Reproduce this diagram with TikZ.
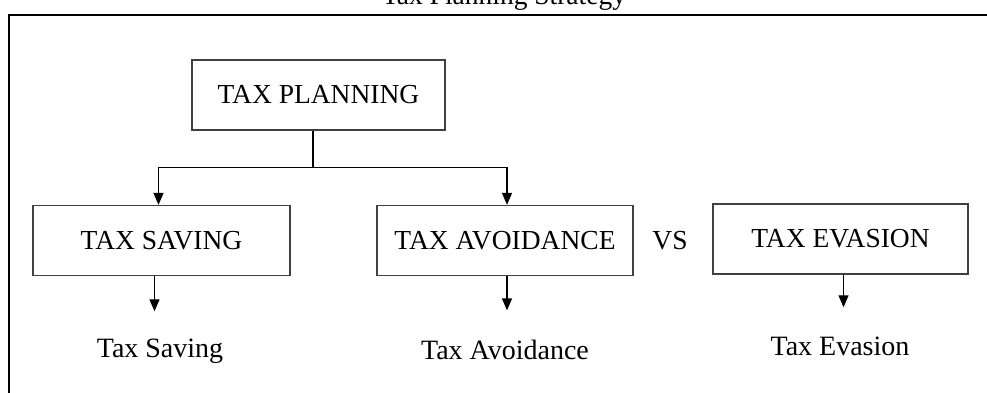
\documentclass[tikz,border=0pt]{standalone}
\usepackage{fontspec}
\setmainfont{Liberation Serif}
\usetikzlibrary{arrows.meta}
\colorlet{boxGray}{black!75}

\begin{document}
\begin{tikzpicture}[x=1pt, y=-1pt, font=\fontsize{27.5}{32}\selectfont,
    box/.style={draw=boxGray, line width=1.3pt, minimum height=70pt, inner sep=0pt},
    lbl/.style={inner sep=0pt, anchor=base},
    arr/.style={-{Triangle[length=12pt, width=10pt]}, line width=1.3pt}]
		\clip (0,0) rectangle (987,392);
		%%%%%%%%%%%%%
		\node[lbl] (title) at (504, 4) {Tax Planning Strategy};
		\node[box, minimum width=253pt] (plan) at (318.5, 95) {TAX PLANNING};
		\node[box, minimum width=257pt] (save) at (161.5, 240.5) {TAX SAVING};
		\node[box, minimum width=256pt] (avoid) at (505, 240.5) {TAX AVOIDANCE};
		\node[box, minimum width=255pt] (evade) at (840.5, 239) {TAX EVASION};
		\node (vs) at (670, 241) {VS};
		\node[lbl, font=\fontsize{28}{32}\selectfont] (tsave) at (160, 357) {Tax Saving};
		\node[lbl, font=\fontsize{28}{32}\selectfont] (tavoid) at (505, 359) {Tax Avoidance};
		\node[lbl, font=\fontsize{28}{32}\selectfont] (tevade) at (840, 355) {Tax Evasion};
		\coordinate (split) at (313, 167.5);
		%%%%%%%%%%%%%
		\draw[line width=1.8pt] (9, 15) rectangle (1000, 400);
		\draw[line width=1.3pt] (plan.south -| split) to (split);
		\draw[arr] (split) -| ([xshift=-3pt]save.north);
		\draw[arr] (split) -| ([xshift=2pt]avoid.north);
		\draw[arr, shorten >=27pt] ([xshift=-7pt]save.south) to ([xshift=-7pt]save.south |- tsave.north);
		\draw[arr, shorten >=29pt] ([xshift=2pt]avoid.south) to ([xshift=2pt]avoid.south |- tavoid.north);
		\draw[arr, shorten >=29pt] ([xshift=3pt]evade.south) to ([xshift=3pt]evade.south |- tevade.north);
\end{tikzpicture}
\end{document}
